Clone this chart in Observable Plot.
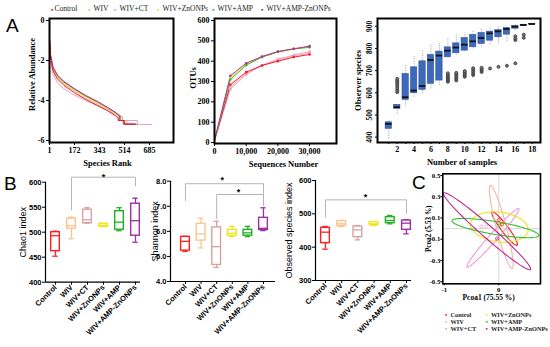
<!DOCTYPE html>
<html><head><meta charset="utf-8">
<script src="https://cdn.jsdelivr.net/npm/d3@7"></script>
<script src="https://cdn.jsdelivr.net/npm/@observablehq/plot@0.6"></script>
<style>
body{margin:0;background:#fff;}
#root{position:relative;width:550px;height:347px;overflow:hidden;background:#fff;}
.panel{position:absolute;}
.txt{position:absolute;white-space:nowrap;line-height:1;}
</style></head><body><div id="root"></div>
<script>
// ---------- shared ----------
const groups = ["Control","WIV","WIV+CT","WIV+ZnONPs","WIV+AMP","WIV+AMP-ZnONPs"];
const colorsA = ["#ee1c25","#f5b4a6","#f29ad2","#efe31f","#33c033","#c0289a"];
const colorsB = ["#ff1f1f","#fcc48e","#d8a2a2","#ece61a","#1fb11f","#9b2fa3"];

// ---------- A1: rank abundance ----------
const rankTicks = [1,172,343,514,685];
const rankRanks = [
  [1,8,25,55,100,170,250,330,400,450,470,470,512,512,590],
  [1,8,25,55,100,170,250,330,400,450,490,490,530,530,600],
  [1,8,25,55,100,170,250,330,400,450,500,500,602,602,700],
  [1,8,25,55,100,170,250,330,400,450,480,480,515,515,585],
  [1,8,25,55,100,170,250,330,400,450,485,485,515,515,595],
  [1,8,25,55,100,170,250,330,400,450,478,478,505,505,580]
];
const rankValues = [
  [-0.95,-1.85,-2.52,-2.92,-3.25,-3.6,-3.95,-4.25,-4.52,-4.75,-4.85,-5.0,-5.0,-5.18,-5.18],
  [-0.95,-1.8,-2.45,-2.85,-3.18,-3.52,-3.87,-4.18,-4.45,-4.68,-4.82,-5.0,-5.0,-5.18,-5.18],
  [-1.0,-1.95,-2.68,-3.12,-3.42,-3.72,-4.0,-4.27,-4.5,-4.68,-4.8,-5.0,-5.0,-5.2,-5.2],
  [-0.9,-1.75,-2.4,-2.8,-3.12,-3.47,-3.82,-4.12,-4.4,-4.62,-4.78,-5.0,-5.0,-5.18,-5.18],
  [-0.9,-1.72,-2.36,-2.76,-3.08,-3.43,-3.78,-4.08,-4.37,-4.6,-4.76,-5.0,-5.0,-5.2,-5.2],
  [-0.88,-1.7,-2.33,-2.72,-3.05,-3.4,-3.75,-4.05,-4.35,-4.58,-4.75,-5.0,-5.0,-5.18,-5.18]
];
const rankDrawOrder = [2,1,3,4,5,0];

// ---------- A2: OTU rarefaction ----------
const seqDepth = [0,5000,10000,15000,20000,25000,30000];
const seqTicks = [0,10000,20000,30000];
const otuValues = [
  [10,284,346,379,400,420,433],
  [10,272,340,378,406,426,440],
  [10,262,334,380,410,430,447],
  [10,318,384,421,446,461,471],
  [10,310,380,420,445,460,468],
  [10,328,390,423,448,461,474]
];
const otuDrawOrder = [1,2,0,3,4,5];

// ---------- A3: observed species vs number of samples ----------
const sampleN   = [1,2,3,4,5,6,7,8,9,10,11,12,13,14,15,16,17,18];
const obsLo     = [392,505,538,580,595,618,633,757,768,787,798,805,817,823,830,880,901,909];
const obsQ1     = [437,528,568,598,613,640,655,760,778,790,805,820,835,850,862,889,901,909];
const obsMed    = [460,535,580,610,631,748,768,790,804,817,832,847,868,877,888,898,906,910];
const obsQ3     = [467,546,685,715,742,771,786,805,823,847,861,870,876,883,892,902,907,911];
const obsHi     = [475,548,723,768,793,817,828,843,862,870,880,889,895,898,903,907,909,911];
const outlierN  = [2,2,2,2,2,2,2,2, 8,8,8,8,8,8,8, 9,9,9,9,9,9, 10,10,10,10,10, 11,11,11,11,11, 12,12,12,12, 13,14,15, 16,16,16,16, 17,17];
const outlierV  = [603,612,622,632,640,648,655,663, 650,656,662,668,674,680,688, 656,663,670,677,684,690, 672,678,685,692,698, 680,688,696,704,711, 694,701,707,713, 710,717,722, 733,838,845,855, 848,862];

// ---------- B: alpha diversity (lo, q1, median, q3, hi) ----------
const chao1Stats = [[452,462,493,500,502],[487,507,513,527,530],[518,518,525,545,549],[511,511,514,517,517],[503,505,520,542,549],[480,493,523,557,568]];
const shannonStats = [[5.2,5.23,5.6,5.78,5.8],[5.34,5.63,5.9,6.3,6.52],[4.56,4.66,5.39,6.16,6.4],[5.79,5.82,5.92,6.06,6.2],[5.79,5.83,5.94,6.06,6.2],[6.03,6.05,6.12,6.54,6.94]];
const observedStats = [[394,412,445,458,462],[462,463,470,478,480],[422,430,452,462,465],[465,466,470,475,477],[470,472,480,490,495],[440,452,472,480,482]];

// ---------- C: PCoA ----------
const ellCenterX = [0.109,0.047,-0.107,0.013,-0.061,-0.215];
const ellCenterY = [0.0,0.015,-0.087,0.015,0.005,-0.025];
const ellUx = [0.231,0.201,0.478,0.53,0.80,0.80];
const ellUy = [-0.157,-0.393,0.276,-0.03,-0.068,-0.36];
const ellVx = [0.052,0.089,0.055,0.02,0.01,-0.074];
const ellVy = [0.02,0.012,-0.025,0.14,0.06,-0.042];
const pcoaX = [-0.32,-0.228,-0.03,0.02,0.03,0.06,0.0];
const pcoaY = [0.02,0.02,-0.094,0.03,0.05,0.04,0.08];
const pcoaG = [2,1,5,4,3,0,0];

// ---------- helpers ----------
const root = document.getElementById("root");
function place(svg, left, top, w, h) {
  const d = document.createElement("div");
  d.className = "panel";
  Object.assign(d.style, {left:left+"px", top:top+"px", width:w+"px", height:h+"px"});
  d.appendChild(svg);
  root.appendChild(d);
}
function label(text, left, top, css) {
  const d = document.createElement("div");
  d.className = "txt";
  d.textContent = text;
  Object.assign(d.style, {left:left+"px", top:top+"px"}, css || {});
  root.appendChild(d);
  return d;
}
const serif = "'Liberation Serif','Times New Roman',serif";
const sans = "'Liberation Sans',Arial,sans-serif";
const yTitle = (t, dx, size, extra) => Plot.text([t], Object.assign({frameAnchor:"left", dx, rotate:-90, textAnchor:"middle", lineAnchor:"middle", text:d=>d, fontSize:size}, extra || {}));
const xTitle = (t, dy, dx, size) => Plot.text([t], {frameAnchor:"bottom", dy, dx, textAnchor:"middle", lineAnchor:"middle", text:d=>d, fontSize:size});

// ---------- A1 ----------
const rankData = [];
rankDrawOrder.forEach(i => rankRanks[i].forEach((r, j) => rankData.push({g: groups[i], r, v: rankValues[i][j]})));
place(Plot.plot({
  width:180, height:170, marginLeft:49, marginRight:7, marginTop:18, marginBottom:28,
  style:{fontFamily:serif, fontSize:"8px", fontWeight:"bold", background:"transparent", color:"#000"},
  x:{domain:[1,849], ticks:rankTicks, tickSize:3, tickPadding:2, label:null},
  y:{domain:[-6.1,0.1], ticks:[0,-2,-4,-6], tickSize:3, tickPadding:2, label:null, tickFormat:d => String(d)},
  color:{domain:groups, range:colorsA},
  marks:[
    Plot.line(rankData, {x:"r", y:"v", z:"g", stroke:"g", strokeWidth:1}),
    Plot.frame({stroke:"#000", strokeWidth:2}),
    yTitle("Relative Abundance", -17, 8.5, {dy:-6}),
    xTitle("Species Rank", 21, -4, 8.5)
  ]
}), 0, 0, 180, 170);

// ---------- A2 ----------
const otuData = [];
otuDrawOrder.forEach(i => seqDepth.forEach((s, j) => otuData.push({g: groups[i], s, v: otuValues[i][j]})));
place(Plot.plot({
  width:170, height:170, marginLeft:34, marginRight:14, marginTop:18, marginBottom:27,
  style:{fontFamily:serif, fontSize:"8px", fontWeight:"bold", background:"transparent", color:"#000"},
  x:{domain:[0,38500], ticks:seqTicks, tickSize:3, tickPadding:2, label:null, tickFormat:d3.format(",")},
  y:{domain:[-5,610], ticks:[0,100,200,300,400,500,600], tickSize:3, tickPadding:2, label:null},
  color:{domain:groups, range:colorsA},
  marks:[
    Plot.line(otuData, {x:"s", y:"v", z:"g", stroke:"g", strokeWidth:1}),
    Plot.dot(otuData.filter(d => d.s > 0), {x:"s", y:"v", fill:"g", r:1.3}),
    Plot.frame({stroke:"#000", strokeWidth:2}),
    yTitle("OTUs", -21, 8.5, {dy:-3}),
    xTitle("Sequences Number", 21, 8, 8.5)
  ]
}), 180, 0, 170, 170);

// ---------- A3 ----------
const boxA3 = sampleN.map((n, i) => ({n, lo:obsLo[i], q1:obsQ1[i], med:obsMed[i], q3:obsQ3[i], hi:obsHi[i]}));
const outA3 = outlierN.map((n, i) => ({n, v: outlierV[i]}));
const a3Ticks = [400,500,600,700,800,900];
place(Plot.plot({
  width:195, height:170, marginLeft:27, marginRight:5, marginTop:18, marginBottom:28,
  style:{fontFamily:serif, fontSize:"8px", fontWeight:"bold", background:"transparent", color:"#000"},
  x:{domain:[-0.34,18.98], ticks:sampleN, tickFormat:d => d % 2 === 0 ? String(d) : "", tickSize:2, tickPadding:2, label:null},
  y:{domain:[376,935], ticks:a3Ticks, tickFormat:() => "", tickSize:2, label:null},
  marks:[
    Plot.ruleX(boxA3, {x:"n", y1:"lo", y2:"q1", stroke:"#999", strokeDasharray:"1.2,1.2", strokeWidth:0.8}),
    Plot.ruleX(boxA3, {x:"n", y1:"q3", y2:"hi", stroke:"#999", strokeDasharray:"1.2,1.2", strokeWidth:0.8}),
    Plot.rect(boxA3, {x1:d => d.n - 0.38, x2:d => d.n + 0.38, y1:"q1", y2:"q3", fill:"#3d69bd", stroke:"#2c4f94", strokeWidth:0.5}),
    Plot.ruleY(boxA3, {y:"med", x1:d => d.n - 0.38, x2:d => d.n + 0.38, stroke:"#111", strokeWidth:1.8}),
    Plot.dot(outA3, {x:"n", y:"v", r:1.5, stroke:"#333", strokeWidth:0.8, fill:"#777"}),
    Plot.frame({stroke:"#000", strokeWidth:2}),
    Plot.text(a3Ticks, {x:() => -0.34, y:d => d, dx:-8, rotate:-90, textAnchor:"middle", lineAnchor:"middle", text:d => String(d), fontSize:7.5}),
    yTitle("Observer species", -19, 8.5),
    xTitle("Number of samples", 20, 3, 8.5)
  ]
}), 350, 0, 195, 170);

// ---------- B panels ----------
function boxPanel(stats, opts) {
  const recs = stats.map((s, i) => ({i, g: groups[i], lo:s[0], q1:s[1], med:s[2], q3:s[3], hi:s[4]}));
  const w = opts.boxW, cw = opts.capW;
  const marks = [
    Plot.ruleY([opts.yDomain[0]], {stroke:"#000", strokeWidth:1.2}),
    Plot.ruleX([opts.xDomain[0]], {stroke:"#000", strokeWidth:1.2}),
    Plot.ruleX(recs, {x:"i", y1:"lo", y2:"q1", stroke:"g", strokeWidth:1.3}),
    Plot.ruleX(recs, {x:"i", y1:"q3", y2:"hi", stroke:"g", strokeWidth:1.3}),
    Plot.ruleY(recs, {y:"lo", x1:d => d.i - cw, x2:d => d.i + cw, stroke:"g", strokeWidth:1.3}),
    Plot.ruleY(recs, {y:"hi", x1:d => d.i - cw, x2:d => d.i + cw, stroke:"g", strokeWidth:1.3}),
    Plot.rect(recs, {x1:d => d.i - w, x2:d => d.i + w, y1:"q1", y2:"q3", fill:"white", stroke:"g", strokeWidth:1.4}),
    Plot.ruleY(recs, {y:"med", x1:d => d.i - w, x2:d => d.i + w, stroke:"g", strokeWidth:1.3}),
    yTitle(opts.title, opts.titleDx, 9, {fontWeight:"normal"})
  ];
  for (const b of opts.brackets) {
    marks.push(Plot.line(b.pts, {x:d=>d[0], y:d=>d[1], stroke:"#b5b5b5", strokeWidth:1}));
    marks.push(Plot.text([b.star], {x:d=>d[0], y:d=>d[1], text:() => "*", fontSize:9, fontWeight:"bold", dy:2}));
  }
  return Plot.plot({
    width:opts.width, height:177, marginLeft:opts.ml, marginRight:opts.mr, marginTop:opts.mt, marginBottom:opts.mb,
    style:{fontFamily:sans, fontSize:"7.5px", fontWeight:"bold", background:"transparent", color:"#000"},
    x:{domain:opts.xDomain, ticks:[0,1,2,3,4,5], tickFormat:i => groups[i], tickRotate:-45, tickSize:3, tickPadding:1, label:null},
    y:{domain:opts.yDomain, ticks:opts.yTicks, tickSize:3, tickPadding:1, label:null},
    color:{domain:groups, range:colorsB},
    marks
  });
}
place(boxPanel(chao1Stats, {
  width:145, ml:45, mr:5, mt:11.7, mb:65.3, xDomain:[-0.625,5.3125], yDomain:[400,600],
  yTicks:[400,450,500,550,600], boxW:0.27, capW:0.17, title:"Chao1 index", titleDx:-22,
  brackets:[{pts:[[1,545],[1,610],[5,610],[5,593]], star:[3,614]}]
}), 0, 170, 145, 177);
place(boxPanel(shannonStats, {
  width:135, ml:25, mr:5, mt:10.7, mb:66, xDomain:[-0.96,5.77], yDomain:[4,8],
  yTicks:[4,5,6,7,8], boxW:0.28, capW:0.17, title:"Shannon index", titleDx:-15,
  brackets:[{pts:[[0,7.22],[0,7.9],[5,7.9],[5,7.03]], star:[2.35,8.12]},
            {pts:[[2,6.5],[2,7.47],[5,7.47]], star:[3.4,7.65]}]
}), 145, 170, 135, 177);
place(boxPanel(observedStats, {
  width:135, ml:35, mr:4, mt:10, mb:67, xDomain:[-0.617,5.31], yDomain:[300,600],
  yTicks:[300,400,500,600], boxW:0.27, capW:0.17, title:"Observed species index", titleDx:-26,
  brackets:[{pts:[[0,490],[0,542],[5,542],[5,501]], star:[2.47,556]}]
}), 280, 170, 135, 177);

// ---------- C ----------
const ellPts = [];
const tSteps = Array.from({length:73}, (_, k) => k * 2 * Math.PI / 72);
groups.forEach((g, i) => tSteps.forEach(t => ellPts.push({
  g,
  x: ellCenterX[i] + ellUx[i] * Math.cos(t) + ellVx[i] * Math.sin(t),
  y: ellCenterY[i] + ellUy[i] * Math.cos(t) + ellVy[i] * Math.sin(t)
})));
const pcoaPts = pcoaX.map((x, k) => ({x, y: pcoaY[k], g: groups[pcoaG[k]]}));
place(Plot.plot({
  width:145, height:140, marginLeft:42.3, marginRight:5, marginTop:8.3, marginBottom:21.7,
  style:{fontFamily:serif, fontSize:"6.8px", fontWeight:"bold", background:"transparent", color:"#000"},
  x:{domain:[-1.03,0.77], ticks:[-1,0], tickFormat:d => String(d), tickSize:2, tickPadding:1, label:null},
  y:{domain:[-0.52,0.516], ticks:[-0.5,-0.3,-0.1,0.1,0.3,0.5], tickFormat:d => d.toFixed(1), tickSize:2, tickPadding:0.5, label:null},
  color:{domain:groups, range:colorsA},
  marks:[
    Plot.ruleX([0], {stroke:"#cfcfcf", strokeWidth:0.8}),
    Plot.ruleY([0], {stroke:"#cfcfcf", strokeWidth:0.8}),
    Plot.line(ellPts, {x:"x", y:"y", z:"g", stroke:"g", strokeWidth:1.1}),
    Plot.dot(pcoaPts, {x:"x", y:"y", stroke:"g", r:1.6, strokeWidth:0.8}),
    Plot.frame({stroke:"#000", strokeWidth:1.6}),
    yTitle("Pcoa2 (5.53 %)", -14.5, 7.2),
    xTitle("Pcoa1 (75.55 %)", 14, -3, 7.5)
  ]
}), 400, 165, 145, 140);

// ---------- legends & panel letters ----------
const topLegendX = [51, 88, 114, 157, 212, 261];
groups.forEach((g, i) => {
  label("\u25AA", topLegendX[i], 5.5, {fontSize:"7px", color:colorsA[i], fontFamily:sans});
  label(g, topLegendX[i] + (i === 0 ? 3.5 : 5.5), 5.3, {fontSize:"7.5px", fontFamily:serif, color:"#222"});
});
const cLegX = [446, 486.5];
const cLegY = [312, 319, 326];
groups.forEach((g, i) => {
  const col = i < 3 ? 0 : 1, row = i % 3;
  label("\u25AA", cLegX[col] - 1, cLegY[row] - 0.3, {fontSize:"6.5px", color:colorsA[i], fontFamily:sans});
  label(g, cLegX[col] + 4.5, cLegY[row], {fontSize:"6.3px", fontFamily:serif, fontWeight:"bold", color:"#222"});
});
label("A", 6, 15.5, {fontSize:"19px", fontFamily:sans});
label("B", 4, 174, {fontSize:"19px", fontFamily:sans});
label("C", 412, 172.5, {fontSize:"19px", fontFamily:sans});
</script></body></html>
